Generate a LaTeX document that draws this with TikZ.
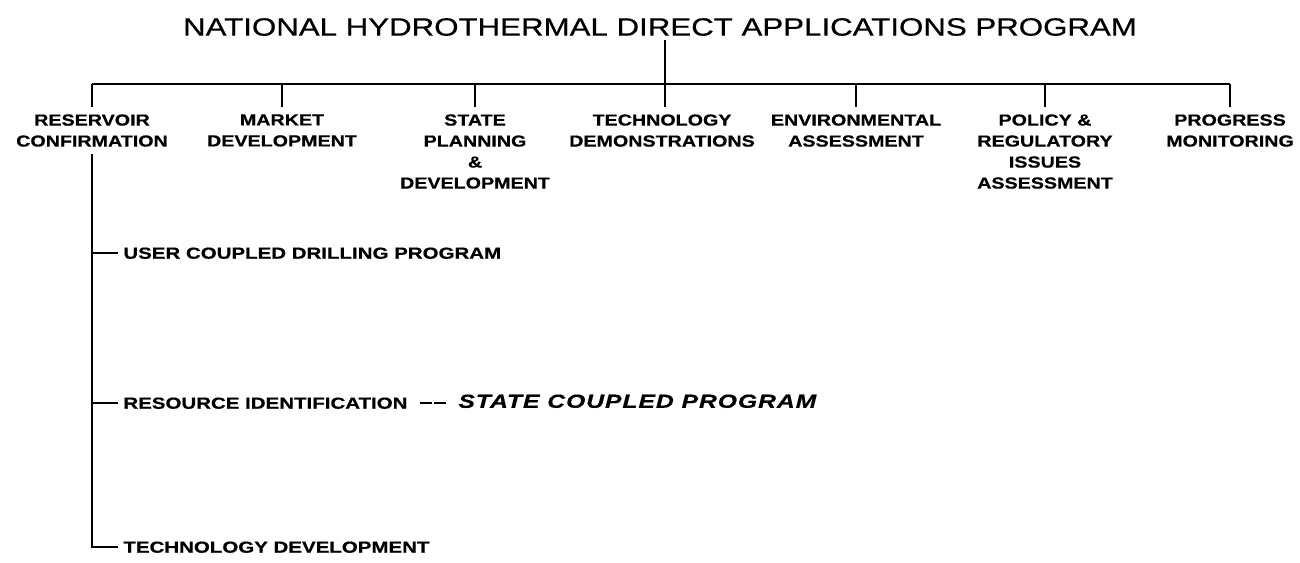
\documentclass[tikz,border=0pt]{standalone}
\usepackage{fontspec}
\usepackage{tikz}
\newfontfamily\titlefont{Liberation Sans}[FakeStretch=1.25,FakeBold=0.5]
\newfontfamily\labelfont{Liberation Sans}[FakeStretch=1.23,BoldFeatures={FakeBold=0.6}]
\newfontfamily\leaffont{Liberation Sans}[FakeStretch=1.28,BoldFeatures={FakeBold=0.6}]
\newfontfamily\statefont{Liberation Sans}[FakeStretch=1.3,LetterSpace=5,BoldItalicFeatures={FakeBold=0.4}]
\tikzset{
	heading/.style={inner sep=1.5pt, font=\titlefont\fontsize{12.5}{15}\selectfont},
	branch/.style={anchor=north, align=center, inner xsep=1pt, inner ysep=3pt,
		font=\labelfont\bfseries\fontsize{8}{10.5}\selectfont},
	leaf/.style={anchor=west, inner xsep=2pt, inner ysep=0pt, text height=5.7pt, text depth=0pt,
		font=\leaffont\bfseries\fontsize{8}{10}\selectfont},
}

\begin{document}
\begin{tikzpicture}[x=0.5pt, y=-0.5pt, line width=1.4pt]
		\useasboundingbox (0,0) rectangle (1300,562);
		\node[heading] (title) at (660,27) {NATIONAL HYDROTHERMAL DIRECT APPLICATIONS PROGRAM};
		\coordinate (bar) at (665,84);
		\node[branch] (res) at (92,107) {RESERVOIR\\CONFIRMATION};
		\node[branch] (mkt) at (282,107) {MARKET\\DEVELOPMENT};
		\node[branch] (state) at (475,107) {STATE\\PLANNING\\\&\\DEVELOPMENT};
		\node[branch] (tech) at (662,107) {TECHNOLOGY\\DEMONSTRATIONS};
		\node[branch] (env) at (856,107) {ENVIRONMENTAL\\ASSESSMENT};
		\node[branch] (policy) at (1045,107) {POLICY \&\\REGULATORY\\ISSUES\\ASSESSMENT};
		\node[branch] (prog) at (1230,107) {PROGRESS\\MONITORING};
		\draw (title.south -| bar) -- (bar) -- (bar |- tech.north);
		\draw (res.north |- bar) -- (prog.north |- bar);
		\foreach \n in {res,mkt,state,env,policy,prog}
			\draw (\n.north |- bar) -- (\n.north);
		\node[leaf] (user) at (118,253) {USER COUPLED DRILLING PROGRAM};
		\node[leaf] (resid) at (118,403) {RESOURCE IDENTIFICATION};
		\node[leaf] (techdev) at (118,547) {TECHNOLOGY DEVELOPMENT};
		\node[leaf, text height=6.8pt, font=\statefont\bfseries\itshape\fontsize{9.5}{11}\selectfont]
			(scp) at (453,401) {STATE COUPLED PROGRAM};
		\draw (res.south) -- (res.south |- techdev.west) -- (techdev.west);
		\draw (res.south |- user.west) -- (user.west);
		\draw (res.south |- resid.west) -- (resid.west);
		\draw[line width=1.2pt, dash pattern=on 6pt off 1.2pt, shorten <=3.6pt, shorten >=3.3pt] (resid.east) -- (resid.east -| scp.west);
\end{tikzpicture}
\end{document}
